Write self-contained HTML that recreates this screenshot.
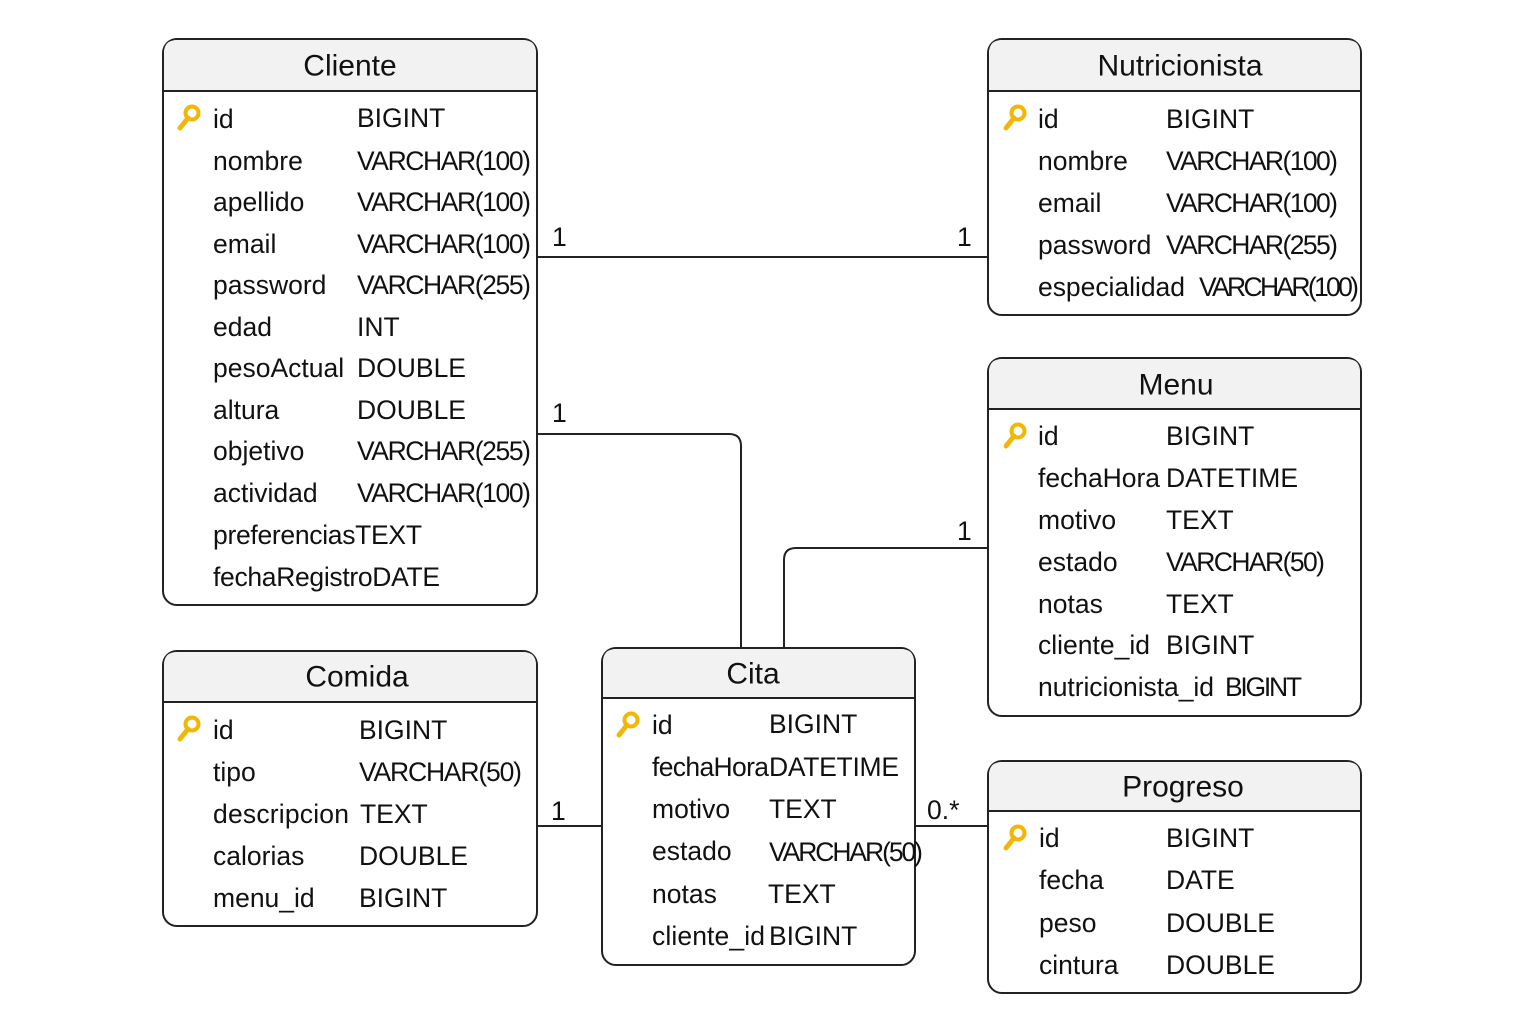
<!DOCTYPE html>
<html><head><meta charset="utf-8"><style>
html,body{margin:0;padding:0;background:#fff}
svg{display:block}
text{font-family:"Liberation Sans",Arial,sans-serif;fill:#111;font-size:26.5px;dominant-baseline:central}
.t{font-size:30px;text-anchor:middle}
.box{fill:#fff;stroke:#222;stroke-width:2}
.hd{fill:#f2f2f2}
.ln{stroke:#222;stroke-width:2;fill:none}
</style></head><body>
<svg width="1536" height="1024" viewBox="0 0 1536 1024" xmlns="http://www.w3.org/2000/svg">
<defs>
<g id="key"><circle cx="0" cy="0" r="6.5" fill="none" stroke="#f2b705" stroke-width="4"/><line x1="-4" y1="5" x2="-12" y2="15" stroke="#f2b705" stroke-width="5" stroke-linecap="round"/></g>
</defs>

<path class="ln" d="M537 257 H988"/>
<path class="ln" d="M537 434 H729 Q741 434 741 446 V648"/>
<path class="ln" d="M988 548 H796 Q784 548 784 560 V648"/>
<path class="ln" d="M537 826 H602"/>
<path class="ln" d="M915 826 H988"/>
<text x="552" y="237">1</text>
<text x="957" y="237">1</text>
<text x="552" y="413">1</text>
<text x="957" y="531">1</text>
<text x="551" y="811">1</text>
<text x="927" y="810">0.*</text>

<!-- Cliente -->
<rect class="box" x="163" y="39" width="374" height="566" rx="14"/>
<path class="hd" d="M164 91 V53 Q164 40 177 40 H523 Q536 40 536 53 V91Z"/>
<line class="ln" x1="163" y1="91" x2="537" y2="91"/>
<text class="t" x="350" y="66">Cliente</text>
<use href="#key" x="192" y="113"/>
<text x="213" y="119">id</text><text x="357" y="118" font-size="28">BIGINT</text>
<text x="213" y="161">nombre</text><text x="357" y="161" textLength="174">VARCHAR(100)</text>
<text x="213" y="202">apellido</text><text x="357" y="202" textLength="174">VARCHAR(100)</text>
<text x="213" y="244">email</text><text x="357" y="244" textLength="174">VARCHAR(100)</text>
<text x="213" y="285">password</text><text x="357" y="285" textLength="174">VARCHAR(255)</text>
<text x="213" y="327">edad</text><text x="357" y="327">INT</text>
<text x="213" y="368">pesoActual</text><text x="357" y="368">DOUBLE</text>
<text x="213" y="410">altura</text><text x="357" y="410">DOUBLE</text>
<text x="213" y="451">objetivo</text><text x="357" y="451" textLength="174">VARCHAR(255)</text>
<text x="213" y="493">actividad</text><text x="357" y="493" textLength="174">VARCHAR(100)</text>
<text x="213" y="535" textLength="209">preferenciasTEXT</text>
<text x="213" y="577" textLength="227">fechaRegistroDATE</text>

<!-- Nutricionista -->
<rect class="box" x="988" y="39" width="373" height="276" rx="14"/>
<path class="hd" d="M989 91 V53 Q989 40 1002 40 H1347 Q1360 40 1360 53 V91Z"/>
<line class="ln" x1="988" y1="91" x2="1361" y2="91"/>
<text class="t" x="1180" y="66">Nutricionista</text>
<use href="#key" x="1018" y="113"/>
<text x="1038" y="119">id</text><text x="1166" y="119">BIGINT</text>
<text x="1038" y="161">nombre</text><text x="1166" y="161" textLength="172">VARCHAR(100)</text>
<text x="1038" y="203">email</text><text x="1166" y="203" textLength="172">VARCHAR(100)</text>
<text x="1038" y="245">password</text><text x="1166" y="245" textLength="172">VARCHAR(255)</text>
<text x="1038" y="287" textLength="147">especialidad</text><text x="1199" y="287" textLength="160" font-size="23">VARCHAR(100)</text>

<!-- Menu -->
<rect class="box" x="988" y="358" width="373" height="358" rx="14"/>
<path class="hd" d="M989 409 V372 Q989 359 1002 359 H1347 Q1360 359 1360 372 V409Z"/>
<line class="ln" x1="988" y1="409" x2="1361" y2="409"/>
<text class="t" x="1176" y="385">Menu</text>
<use href="#key" x="1018" y="431"/>
<text x="1038" y="436">id</text><text x="1166" y="436">BIGINT</text>
<text x="1038" y="478" textLength="122">fechaHora</text><text x="1166" y="478">DATETIME</text>
<text x="1038" y="520">motivo</text><text x="1166" y="520">TEXT</text>
<text x="1038" y="562">estado</text><text x="1166" y="562" textLength="159">VARCHAR(50)</text>
<text x="1038" y="604">notas</text><text x="1166" y="604">TEXT</text>
<text x="1038" y="645">cliente_id</text><text x="1166" y="645">BIGINT</text>
<text x="1038" y="687" textLength="176">nutricionista_id</text><text x="1225" y="687" textLength="77" font-size="23">BIGINT</text>

<!-- Comida -->
<rect class="box" x="163" y="651" width="374" height="275" rx="14"/>
<path class="hd" d="M164 702 V665 Q164 652 177 652 H523 Q536 652 536 665 V702Z"/>
<line class="ln" x1="163" y1="702" x2="537" y2="702"/>
<text class="t" x="357" y="677">Comida</text>
<use href="#key" x="192" y="724"/>
<text x="213" y="730">id</text><text x="359" y="730" font-size="28">BIGINT</text>
<text x="213" y="772">tipo</text><text x="359" y="772" textLength="163">VARCHAR(50)</text>
<text x="213" y="814" textLength="136">descripcion</text><text x="360" y="814">TEXT</text>
<text x="213" y="856">calorias</text><text x="359" y="856">DOUBLE</text>
<text x="213" y="898">menu_id</text><text x="359" y="898">BIGINT</text>

<!-- Cita -->
<rect class="box" x="602" y="648" width="313" height="317" rx="14"/>
<path class="hd" d="M603 698 V662 Q603 649 616 649 H901 Q914 649 914 662 V698Z"/>
<line class="ln" x1="602" y1="698" x2="915" y2="698"/>
<text class="t" x="753" y="674">Cita</text>
<use href="#key" x="631" y="720"/>
<text x="652" y="725">id</text><text x="769" y="724">BIGINT</text>
<text x="652" y="767" textLength="117">fechaHora</text><text x="769" y="767" textLength="130">DATETIME</text>
<text x="652" y="809">motivo</text><text x="769" y="809">TEXT</text>
<text x="652" y="851">estado</text><text x="769" y="852" textLength="154" font-size="23">VARCHAR(50)</text>
<text x="652" y="894">notas</text><text x="768" y="894">TEXT</text>
<text x="652" y="936" textLength="113">cliente_id</text><text x="769" y="936">BIGINT</text>

<!-- Progreso -->
<rect class="box" x="988" y="761" width="373" height="232" rx="14"/>
<path class="hd" d="M989 811 V775 Q989 762 1002 762 H1347 Q1360 762 1360 775 V811Z"/>
<line class="ln" x1="988" y1="811" x2="1361" y2="811"/>
<text class="t" x="1183" y="787">Progreso</text>
<use href="#key" x="1018" y="833"/>
<text x="1039" y="838">id</text><text x="1166" y="838">BIGINT</text>
<text x="1039" y="880">fecha</text><text x="1166" y="880">DATE</text>
<text x="1039" y="923">peso</text><text x="1166" y="923">DOUBLE</text>
<text x="1039" y="965">cintura</text><text x="1166" y="965">DOUBLE</text>
</svg>
</body></html>
